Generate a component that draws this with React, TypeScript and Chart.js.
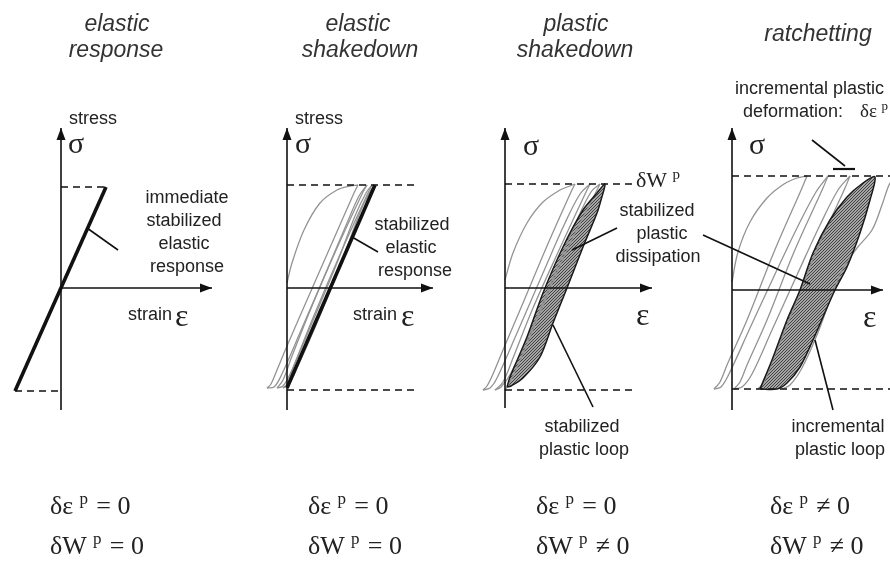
import React, { useEffect, useRef } from "react";
import { Chart, registerables } from "chart.js";

Chart.register(...registerables);

type P = [number, number]; // [strain offset, stress offset] in panel units

// ---------- Panel 1: elastic response ----------
const p1AxisStress: P[] = [[0, -122], [0, 160]];
const p1AxisStrain: P[] = [[0, 0], [151, 0]];
const p1UpperLimit: P[] = [[0, 101], [45, 101]];
const p1LowerLimit: P[] = [[-46, -103], [0, -103]];
const p1Elastic: P[] = [[-46, -103], [45, 101]];
const p1Leader: P[] = [[26, 60], [57, 38]];

// ---------- Panel 2: elastic shakedown ----------
const p2AxisStress: P[] = [[0, -122], [0, 160]];
const p2AxisStrain: P[] = [[0, 0], [146, 0]];
const p2UpperLimit: P[] = [[0, 103], [128, 103]];
const p2LowerLimit: P[] = [[0, -102], [128, -102]];
const p2Stabilized: P[] = [[0, -100], [88, 103]];
const p2Load1: P[] = [[0, 5], [5, 25], [17, 58], [33, 85], [50, 98], [63, 102], [71, 103]];
const p2Unload1: P[] = [[71, 103], [67, 95], [45, 45], [20, -12], [0, -58], [-10, -82], [-16, -96], [-20, -100]];
const p2Load2: P[] = [[-20, -100], [-13, -99], [-6, -88], [15, -40], [40, 18], [60, 65], [72, 92], [80, 103]];
const p2Unload2: P[] = [[80, 103], [76, 96], [50, 40], [25, -18], [5, -68], [-4, -92], [-10, -100]];
const p2Load3: P[] = [[-10, -100], [-4, -98], [4, -84], [25, -35], [50, 25], [68, 72], [79, 95], [85, 103]];
const p2Unload3: P[] = [[85, 103], [81, 95], [55, 38], [28, -25], [8, -75], [0, -96], [-4, -100]];
const p2Load4: P[] = [[-4, -100], [2, -96], [10, -80], [32, -30], [56, 30], [74, 78], [84, 98], [88, 103]];
const p2Leader: P[] = [[65, 51], [91, 36]];

// ---------- Panel 3: plastic shakedown ----------
const p3AxisStress: P[] = [[0, -120], [0, 160]];
const p3AxisStrain: P[] = [[0, 0], [147, 0]];
const p3UpperLimit: P[] = [[0, 104], [127, 104]];
const p3LowerLimit: P[] = [[0, -102], [128, -102]];
const p3Load1: P[] = [[0, 8], [8, 35], [22, 65], [38, 86], [55, 98], [65, 102], [70, 104]];
const p3Unload1: P[] = [[70, 104], [66, 96], [42, 42], [18, -15], [-2, -62], [-12, -86], [-18, -98], [-22, -102]];
const p3Load2: P[] = [[-22, -102], [-15, -100], [-8, -90], [12, -45], [38, 15], [60, 65], [75, 94], [85, 104]];
const p3Unload2: P[] = [[85, 104], [81, 96], [55, 40], [28, -20], [8, -70], [-2, -94], [-10, -102]];
const p3Load3: P[] = [[-10, -102], [-4, -99], [6, -85], [28, -38], [52, 20], [72, 68], [86, 96], [95, 104]];
const p3Unload3: P[] = [[95, 104], [90, 94], [62, 38], [35, -25], [14, -75], [4, -96], [0, -102]];
const p3StableLoop: P[] = [
  [2, -99], [5, -89], [22, -49], [38, -5], [58, 41], [78, 78], [92, 95], [100, 104],
  [96, 88], [92, 75], [78, 41], [62, 0], [48, -35], [35, -69], [18, -90], [6, -98], [2, -99],
];
const p3LeaderDissipation: P[] = [[67, 38], [112, 60]];
const p3LeaderLoop: P[] = [[48, -37], [88, -119]];

// ---------- Panel 4: ratchetting ----------
const p4AxisStress: P[] = [[0, -120], [0, 162]];
const p4AxisStrain: P[] = [[0, 0], [151, 0]];
const p4UpperLimit: P[] = [[0, 114], [165, 114]];
const p4LowerLimit: P[] = [[0, -99], [165, -99]];
const p4Load1: P[] = [[0, 8], [6, 38], [18, 68], [35, 92], [52, 106], [65, 112], [75, 114]];
const p4Unload1: P[] = [[75, 114], [70, 102], [42, 38], [15, -30], [-5, -75], [-12, -92], [-18, -99]];
const p4Load2: P[] = [[-18, -99], [-11, -97], [-3, -84], [18, -38], [44, 18], [66, 64], [84, 98], [96, 114]];
const p4Unload2: P[] = [[96, 114], [91, 102], [62, 38], [35, -30], [15, -75], [8, -92], [2, -99]];
const p4Load3: P[] = [[2, -99], [10, -97], [20, -84], [40, -40], [65, 15], [88, 65], [106, 100], [118, 114]];
const p4Unload3: P[] = [[118, 114], [113, 102], [84, 38], [58, -28], [40, -72], [32, -92], [26, -99]];
const p4Load5: P[] = [[50, -99], [58, -95], [70, -78], [85, -45], [98, -10], [110, 20], [125, 42], [140, 60], [150, 85], [157, 105], [163, 114]];
const p4IncrementalLoop: P[] = [
  [28, -99], [40, -70], [55, -30], [68, 0], [81, 37], [98, 70], [115, 93], [131, 107], [143, 113],
  [138, 90], [128, 57], [115, 23], [103, 0], [91, -27], [81, -50], [68, -77], [55, -93], [45, -99], [28, -99],
];
const p4LeaderDissipation: P[] = [[-29, 55], [78, 6]];
const p4LeaderIncrement: P[] = [[80, 150], [113, 124]];
const p4IncrementBar: P[] = [[101, 121], [123, 121]];
const p4LeaderLoop: P[] = [[83, -50], [101, -120]];

// ---------- Layout (panel origins in page pixels) ----------
const ORIGINS: P[] = [[61, 288], [287, 288], [505, 288], [732, 290]];

const SANS = "'Liberation Sans', Arial, Helvetica, sans-serif";
const SERIF = "'Liberation Serif', 'Times New Roman', Times, serif";

type Label = { t: string; x: number; y: number; size: number; serif?: boolean; italic?: boolean; align?: CanvasTextAlign; color?: string };

const titles: Label[] = [
  { t: "elastic", x: 117, y: 31, size: 23, italic: true, align: "center", color: "#333" },
  { t: "response", x: 116, y: 57, size: 23, italic: true, align: "center", color: "#333" },
  { t: "elastic", x: 358, y: 31, size: 23, italic: true, align: "center", color: "#333" },
  { t: "shakedown", x: 360, y: 57, size: 23, italic: true, align: "center", color: "#333" },
  { t: "plastic", x: 576, y: 31, size: 23, italic: true, align: "center", color: "#333" },
  { t: "shakedown", x: 575, y: 57, size: 23, italic: true, align: "center", color: "#333" },
  { t: "ratchetting", x: 818, y: 41, size: 23, italic: true, align: "center", color: "#333" },
];

const labels: Label[] = [
  // panel 1
  { t: "stress", x: 69, y: 124, size: 18 },
  { t: "σ", x: 68, y: 153, size: 30, serif: true },
  { t: "immediate", x: 187, y: 203, size: 18, align: "center" },
  { t: "stabilized", x: 184, y: 226, size: 18, align: "center" },
  { t: "elastic", x: 184, y: 249, size: 18, align: "center" },
  { t: "response", x: 187, y: 272, size: 18, align: "center" },
  { t: "strain", x: 128, y: 320, size: 18 },
  { t: "ε", x: 175, y: 326, size: 32, serif: true },
  // panel 2
  { t: "stress", x: 295, y: 124, size: 18 },
  { t: "σ", x: 295, y: 153, size: 30, serif: true },
  { t: "stabilized", x: 412, y: 230, size: 18, align: "center" },
  { t: "elastic", x: 411, y: 253, size: 18, align: "center" },
  { t: "response", x: 415, y: 276, size: 18, align: "center" },
  { t: "strain", x: 353, y: 320, size: 18 },
  { t: "ε", x: 401, y: 326, size: 32, serif: true },
  // panel 3
  { t: "σ", x: 523, y: 155, size: 30, serif: true },
  { t: "stabilized", x: 657, y: 216, size: 18, align: "center" },
  { t: "plastic", x: 662, y: 239, size: 18, align: "center" },
  { t: "dissipation", x: 658, y: 262, size: 18, align: "center" },
  { t: "ε", x: 636, y: 325, size: 32, serif: true },
  { t: "stabilized", x: 582, y: 432, size: 18, align: "center" },
  { t: "plastic loop", x: 584, y: 455, size: 18, align: "center" },
  // panel 4
  { t: "incremental plastic", x: 735, y: 94, size: 18 },
  { t: "deformation:", x: 743, y: 117, size: 18 },
  { t: "σ", x: 749, y: 154, size: 30, serif: true },
  { t: "ε", x: 863, y: 327, size: 32, serif: true },
  { t: "incremental", x: 838, y: 432, size: 18, align: "center" },
  { t: "plastic loop", x: 840, y: 455, size: 18, align: "center" },
];

type Formula = { x: number; y: number; base: string; rel: string; size: number };
const formulas: Formula[] = [
  { x: 50, y: 514, base: "δε", rel: "= 0", size: 26 },
  { x: 50, y: 554, base: "δW", rel: "= 0", size: 26 },
  { x: 308, y: 514, base: "δε", rel: "= 0", size: 26 },
  { x: 308, y: 554, base: "δW", rel: "= 0", size: 26 },
  { x: 536, y: 514, base: "δε", rel: "= 0", size: 26 },
  { x: 536, y: 554, base: "δW", rel: "≠ 0", size: 26 },
  { x: 770, y: 514, base: "δε", rel: "≠ 0", size: 26 },
  { x: 770, y: 554, base: "δW", rel: "≠ 0", size: 26 },
  { x: 636, y: 187, base: "δW", rel: "", size: 22 },
  { x: 860, y: 117, base: "δε", rel: "", size: 19 },
];

const textPlugin = {
  id: "texts",
  afterDraw(chart: any) {
    const ctx: CanvasRenderingContext2D = chart.ctx;
    ctx.save();
    ctx.textBaseline = "alphabetic";
    for (const l of [...titles, ...labels]) {
      ctx.font = `${l.italic ? "italic " : ""}${l.size}px ${l.serif ? SERIF : SANS}`;
      ctx.fillStyle = l.color ?? "#222";
      ctx.textAlign = l.align ?? "left";
      ctx.fillText(l.t, l.x, l.y);
    }
    ctx.textAlign = "left";
    ctx.fillStyle = "#222";
    for (const f of formulas) {
      ctx.font = `${f.size}px ${SERIF}`;
      ctx.fillText(f.base, f.x, f.y);
      let x = f.x + ctx.measureText(f.base).width + f.size * 0.24;
      const sup = Math.round(f.size * 0.66);
      ctx.font = `${sup}px ${SERIF}`;
      ctx.fillText("p", x, f.y - f.size * 0.38);
      x += ctx.measureText("p").width + f.size * 0.32;
      if (f.rel) {
        ctx.font = `${f.size}px ${SERIF}`;
        ctx.fillText(f.rel, x, f.y);
      }
    }
    ctx.restore();
  },
};

const arrowPlugin = {
  id: "arrows",
  afterDatasetsDraw(chart: any) {
    const ctx: CanvasRenderingContext2D = chart.ctx;
    chart.data.datasets.forEach((ds: any, i: number) => {
      if (!ds.arrow) return;
      const pts = chart.getDatasetMeta(i).data;
      const a = pts[pts.length - 2];
      const b = pts[pts.length - 1];
      const ang = Math.atan2(b.y - a.y, b.x - a.x);
      const L = 12, W = 4.5;
      const c = Math.cos(ang), s = Math.sin(ang);
      ctx.save();
      ctx.fillStyle = "#111";
      ctx.beginPath();
      ctx.moveTo(b.x, b.y);
      ctx.lineTo(b.x - L * c + W * s, b.y - L * s - W * c);
      ctx.lineTo(b.x - L * c - W * s, b.y - L * s + W * c);
      ctx.closePath();
      ctx.fill();
      ctx.restore();
    });
  },
};

function makeHatch(): CanvasPattern | string {
  const c = document.createElement("canvas");
  c.width = 3;
  c.height = 3;
  const g = c.getContext("2d");
  if (!g) return "#888";
  g.fillStyle = "#d2d2d2";
  g.fillRect(0, 0, 3, 3);
  g.strokeStyle = "#3a3a3a";
  g.lineWidth = 1.1;
  g.beginPath();
  g.moveTo(0, 3); g.lineTo(3, 0);
  g.moveTo(-1, 1); g.lineTo(1, -1);
  g.moveTo(2, 4); g.lineTo(4, 2);
  g.stroke();
  return g.createPattern(c, "repeat") ?? "#888";
}

export default function App() {
  const ref = useRef<HTMLCanvasElement>(null);

  useEffect(() => {
    if (!ref.current) return;
    const hatch = makeHatch();

    const S = (panel: number, pts: P[], style: any) => {
      const [ox, oy] = ORIGINS[panel];
      return {
        data: pts.map(([e, s]) => ({ x: ox + e, y: oy - s })),
        showLine: true,
        pointRadius: 0,
        pointHoverRadius: 0,
        fill: false,
        ...style,
      };
    };
    const AXIS = { borderColor: "#111", borderWidth: 1.6, tension: 0, order: 0, arrow: true };
    const DASH = { borderColor: "#111", borderWidth: 1.4, borderDash: [7, 5], tension: 0, order: 3 };
    const THICK = { borderColor: "#111", borderWidth: 3.6, tension: 0, order: 2 };
    const GRAY = { borderColor: "#939393", borderWidth: 1.3, tension: 0.35, order: 4 };
    const LEADER = { borderColor: "#111", borderWidth: 1.6, tension: 0, order: 1 };
    const LOOPFILL = { borderColor: "rgba(0,0,0,0)", borderWidth: 0, backgroundColor: hatch, fill: "shape", tension: 0.3, order: 5 };
    const LOOPEDGE = { borderColor: "#1a1a1a", borderWidth: 1.5, tension: 0.3, order: 2 };

    const datasets = [
      // panel 1
      S(0, p1AxisStress, AXIS), S(0, p1AxisStrain, AXIS),
      S(0, p1UpperLimit, DASH), S(0, p1LowerLimit, DASH),
      S(0, p1Elastic, THICK), S(0, p1Leader, LEADER),
      // panel 2
      S(1, p2AxisStress, AXIS), S(1, p2AxisStrain, AXIS),
      S(1, p2UpperLimit, DASH), S(1, p2LowerLimit, DASH),
      S(1, p2Load1, GRAY), S(1, p2Unload1, GRAY), S(1, p2Load2, GRAY), S(1, p2Unload2, GRAY),
      S(1, p2Load3, GRAY), S(1, p2Unload3, GRAY), S(1, p2Load4, GRAY),
      S(1, p2Stabilized, THICK), S(1, p2Leader, LEADER),
      // panel 3
      S(2, p3AxisStress, AXIS), S(2, p3AxisStrain, AXIS),
      S(2, p3UpperLimit, DASH), S(2, p3LowerLimit, DASH),
      S(2, p3StableLoop, LOOPFILL),
      S(2, p3Load1, GRAY), S(2, p3Unload1, GRAY), S(2, p3Load2, GRAY), S(2, p3Unload2, GRAY),
      S(2, p3Load3, GRAY), S(2, p3Unload3, GRAY),
      S(2, p3StableLoop, LOOPEDGE),
      S(2, p3LeaderDissipation, LEADER), S(2, p3LeaderLoop, LEADER),
      // panel 4
      S(3, p4AxisStress, AXIS), S(3, p4AxisStrain, AXIS),
      S(3, p4UpperLimit, DASH), S(3, p4LowerLimit, DASH),
      S(3, p4IncrementalLoop, LOOPFILL),
      S(3, p4Load1, GRAY), S(3, p4Unload1, GRAY), S(3, p4Load2, GRAY), S(3, p4Unload2, GRAY),
      S(3, p4Load3, GRAY), S(3, p4Unload3, GRAY), S(3, p4Load5, GRAY),
      S(3, p4IncrementalLoop, LOOPEDGE),
      S(3, p4LeaderDissipation, LEADER), S(3, p4LeaderIncrement, LEADER),
      S(3, p4IncrementBar, { ...LEADER, borderWidth: 2.2 }),
      S(3, p4LeaderLoop, LEADER),
    ];

    const chart = new Chart(ref.current, {
      type: "scatter",
      data: { datasets: datasets as any },
      options: {
        animation: false,
        responsive: false,
        maintainAspectRatio: false,
        devicePixelRatio: 1,
        layout: { padding: 0 },
        events: [],
        scales: {
          x: { type: "linear", min: 0, max: 890, display: false },
          y: { type: "linear", min: 0, max: 561, reverse: true, display: false },
        },
        plugins: { legend: { display: false }, tooltip: { enabled: false } },
      },
      plugins: [arrowPlugin, textPlugin],
    });
    return () => chart.destroy();
  }, []);

  return (
    <div style={{ position: "absolute", left: 0, top: 0, width: 890, height: 561, background: "#fff" }}>
      <canvas ref={ref} width={890} height={561} style={{ display: "block" }} />
    </div>
  );
}
